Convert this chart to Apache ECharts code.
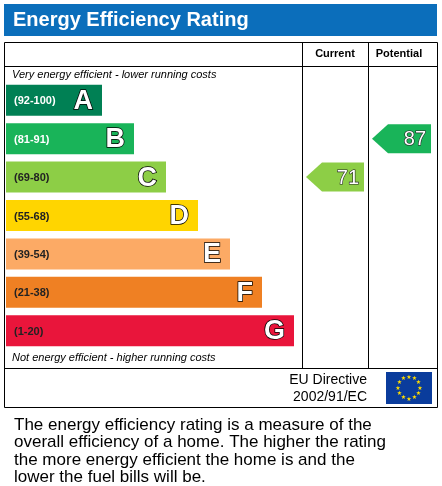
<!DOCTYPE html>
<html><head><meta charset="utf-8">
<script src="https://cdn.jsdelivr.net/npm/echarts@6/dist/echarts.min.js"></script>
<style>html,body{margin:0;padding:0;background:#fff}#c{width:442px;height:486px}</style>
</head><body><div id="c"></div>
<script>
const bands = ['A','B','C','D','E','F','G'];
const ranges = ['(92-100)','(81-91)','(69-80)','(55-68)','(39-54)','(21-38)','(1-20)'];
const barLength = [3,4,5,6,7,8,9];
const colors = ['#008054','#19b459','#8dce46','#ffd500','#fcaa65','#ef8023','#e9153b'];
const rangeColors = ['#fff','#fff','#222','#222','#222','#222','#222'];
const currentRating = 71, currentBand = 'C';
const potentialRating = 87, potentialBand = 'B';
const footLines = ['The energy efficiency rating is a measure of the','overall efficiency of a home. The higher the rating','the more energy efficient the home is and the','lower the fuel bills will be.'];
const chart = echarts.init(document.getElementById('c'));
const F = 'Liberation Sans, Arial, sans-serif';
function arrow(api, x1, x2, y, h, val, color){
  const t = y - h/2, b = y + h/2, tip = 16;
  return {type:'group', children:[
    {type:'polygon', shape:{points:[[x1,y],[x1+tip,t],[x2,t],[x2,b],[x1+tip,b]]}, style:{fill:color}},
    {type:'text', style:{x:x2-5, y:y+1, text:String(val), align:'right', verticalAlign:'middle', fill:'#fff', stroke:'#222', lineWidth:1.2, font:'20px '+F}}
  ]};
}
chart.setOption({
  animation:false,
  graphic:[
    {type:'rect', shape:{x:4,y:4,width:433,height:32}, style:{fill:'#0b6ebb'}},
    {type:'text', style:{x:13,y:20,text:'Energy Efficiency Rating',verticalAlign:'middle',fill:'#fff',font:'bold 20px '+F}},
    {type:'rect', shape:{x:4.5,y:42.5,width:433,height:365}, style:{fill:'none',stroke:'#000',lineWidth:1}},
    {type:'line', shape:{x1:4,y1:66.5,x2:437,y2:66.5}, style:{stroke:'#000'}},
    {type:'line', shape:{x1:4,y1:368.5,x2:437,y2:368.5}, style:{stroke:'#000'}},
    {type:'line', shape:{x1:302.5,y1:42,x2:302.5,y2:368}, style:{stroke:'#000'}},
    {type:'line', shape:{x1:368.5,y1:42,x2:368.5,y2:368}, style:{stroke:'#000'}},
    {type:'text', style:{x:335,y:54,text:'Current',align:'center',verticalAlign:'middle',fill:'#000',font:'bold 11px '+F}},
    {type:'text', style:{x:399,y:54,text:'Potential',align:'center',verticalAlign:'middle',fill:'#000',font:'bold 11px '+F}},
    {type:'text', style:{x:12,y:75,text:'Very energy efficient - lower running costs',verticalAlign:'middle',fill:'#000',font:'italic 11px '+F}},
    {type:'text', style:{x:12,y:358,text:'Not energy efficient - higher running costs',verticalAlign:'middle',fill:'#000',font:'italic 11px '+F}},
    {type:'text', style:{x:367,y:380,text:'EU Directive',align:'right',verticalAlign:'middle',fill:'#000',font:'14px '+F}},
    {type:'text', style:{x:367,y:397,text:'2002/91/EC',align:'right',verticalAlign:'middle',fill:'#000',font:'14px '+F}},
    {type:'rect', shape:{x:386,y:372,width:46,height:32}, style:{fill:'#0a3c9c'}},
    ...Array.from({length:12},(_,i)=>({type:'text', style:{x:409+11*Math.cos(i*Math.PI/6), y:388+11*Math.sin(i*Math.PI/6), text:'★', align:'center', verticalAlign:'middle', fill:'#ffdd00', font:'6px DejaVu Sans'}})),
    ...footLines.map((s,i)=>({type:'text', style:{x:14,y:425+17.5*i,text:s,verticalAlign:'middle',fill:'#000',font:'17px '+F}}))
  ],
  grid:{left:6, top:81, width:288, height:269},
  xAxis:{type:'value', min:0, max:9, show:false},
  yAxis:{type:'category', data:bands, inverse:true, show:false},
  series:[
    {type:'bar', barWidth:31, data:barLength.map((v,i)=>({value:v,itemStyle:{color:colors[i]},label:{color:rangeColors[i]}})),
     label:{show:true, position:'insideLeft', formatter:p=>ranges[p.dataIndex], fontSize:11, fontWeight:'bold', fontFamily:F, offset:[3,1]}},
    {type:'bar', barWidth:31, barGap:'-100%', data:barLength, itemStyle:{color:'transparent'}, z:5,
     label:{show:true, position:'insideRight', formatter:p=>bands[p.dataIndex], color:'#fff', textBorderColor:'#000', textBorderWidth:1.5, fontSize:27, fontWeight:'bold', fontFamily:F, offset:[-4,1]}},
    {type:'custom', data:[[0,currentBand]], renderItem:(p,api)=>arrow(api,306,364,api.coord([0,currentBand])[1],29,currentRating,colors[2])},
    {type:'custom', data:[[0,potentialBand]], renderItem:(p,api)=>arrow(api,372,431,api.coord([0,potentialBand])[1],29,potentialRating,colors[1])}
  ]
});
</script></body></html>
